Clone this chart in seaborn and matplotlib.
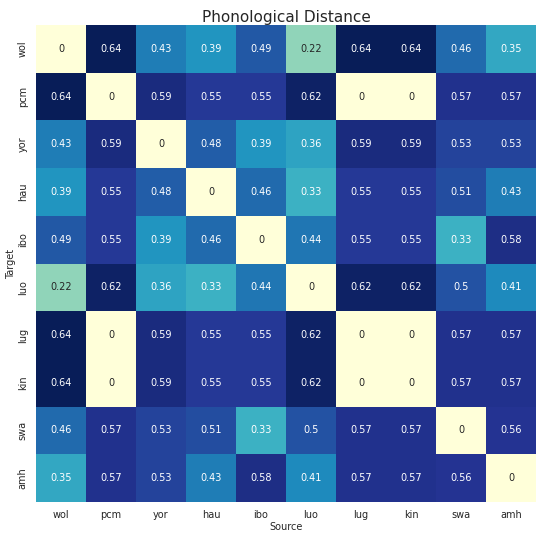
import numpy as np
import pandas as pd
import matplotlib
matplotlib.use("Agg")
import matplotlib.pyplot as plt
import seaborn as sns

langs = ["wol", "pcm", "yor", "hau", "ibo", "luo", "lug", "kin", "swa", "amh"]

wol = [0, 0.64, 0.43, 0.39, 0.49, 0.22, 0.64, 0.64, 0.46, 0.35]
pcm = [0.64, 0, 0.59, 0.55, 0.55, 0.62, 0, 0, 0.57, 0.57]
yor = [0.43, 0.59, 0, 0.48, 0.39, 0.36, 0.59, 0.59, 0.53, 0.53]
hau = [0.39, 0.55, 0.48, 0, 0.46, 0.33, 0.55, 0.55, 0.51, 0.43]
ibo = [0.49, 0.55, 0.39, 0.46, 0, 0.44, 0.55, 0.55, 0.33, 0.58]
luo = [0.22, 0.62, 0.36, 0.33, 0.44, 0, 0.62, 0.62, 0.5, 0.41]
lug = [0.64, 0, 0.59, 0.55, 0.55, 0.62, 0, 0, 0.57, 0.57]
kin = [0.64, 0, 0.59, 0.55, 0.55, 0.62, 0, 0, 0.57, 0.57]
swa = [0.46, 0.57, 0.53, 0.51, 0.33, 0.5, 0.57, 0.57, 0, 0.56]
amh = [0.35, 0.57, 0.53, 0.43, 0.58, 0.41, 0.57, 0.57, 0.56, 0]

dist = pd.DataFrame([wol, pcm, yor, hau, ibo, luo, lug, kin, swa, amh],
                    index=langs, columns=langs)

sns.set_theme(style="white")

fig = plt.figure(figsize=(5.39, 5.34), dpi=100)
ax = fig.add_subplot(111)
sns.heatmap(dist, annot=True, cmap="YlGnBu", cbar=False,
            annot_kws={"size": 7}, ax=ax)
ax.set_title("Phonological Distance", fontsize=11, pad=2)
ax.set_xlabel("Source", fontsize=7, labelpad=1)
ax.set_ylabel("Target", fontsize=7, labelpad=1)
ax.tick_params(axis="both", labelsize=7, length=0, pad=6)
fig.subplots_adjust(left=36/539, right=536/539, top=1-25/534, bottom=1-502/534)

plt.savefig("out.png", dpi=100)
